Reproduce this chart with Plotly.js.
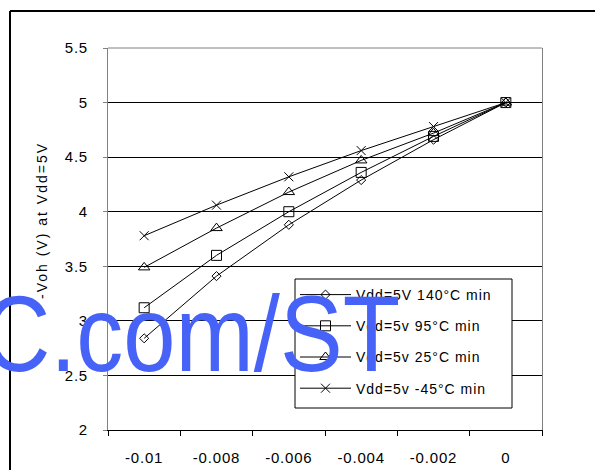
<!DOCTYPE html>
<html>
<head>
<meta charset="utf-8">
<script src="https://cdn.plot.ly/plotly-3.0.1.min.js"></script>
<style>
html,body{margin:0;padding:0;background:#fff;}
#chart{width:595px;height:470px;}
text.legendtext{letter-spacing:1px;}
text.annotation-text{letter-spacing:2px;}
g.xtick text, g.ytick text{letter-spacing:0.8px;}
</style>
</head>
<body>
<div id="chart"></div>
<script>
// Categories (Ioh in A)
var categories = ['-0.01', '-0.008', '-0.006', '-0.004', '-0.002', '0'];
// Series values (Voh in V)
var vdd5_140C = [2.84, 3.41, 3.88, 4.29, 4.66, 5.0];
var vdd5_95C  = [3.12, 3.60, 4.00, 4.36, 4.69, 5.0];
var vdd5_25C  = [3.49, 3.85, 4.18, 4.47, 4.72, 5.0];
var vdd5_m45C = [3.78, 4.06, 4.32, 4.56, 4.78, 5.0];
var seriesNames = ['Vdd=5V 140°C min', 'Vdd=5v 95°C min', 'Vdd=5v 25°C min', 'Vdd=5v -45°C min'];
var yTicks = [2, 2.5, 3, 3.5, 4, 4.5, 5, 5.5];
var yTitle = '-Voh (V) at Vdd=5V';
var watermark = 'C.com/ST';

var FONT = 'Liberation Sans, Arial, sans-serif';

function mk(y, name, symbol, size, grp) {
  return {
    x: categories, y: y, name: name, type: 'scatter', mode: 'lines+markers',
    legendgroup: grp,
    line: {color: '#000', width: 1},
    marker: {symbol: symbol, size: size, color: '#000', line: {color: '#000', width: 1}}
  };
}

var data = [
  mk(vdd5_140C, seriesNames[0], 'diamond-open', 7, 'a'),
  mk(vdd5_95C,  seriesNames[1], 'square-open', 10, 'b'),
  mk(vdd5_25C,  seriesNames[2], 'triangle-up-open', 10, 'c'),
  mk(vdd5_m45C, seriesNames[3], 'x-thin-open', 9, 'd')
];

function px(x) { return (x - 108) / 434; }
function py(y) { return (430 - y) / 382; }

var layout = {
  width: 595, height: 470,
  margin: {l: 108, r: 53, t: 48, b: 40, pad: 0},
  paper_bgcolor: '#fff', plot_bgcolor: '#fff',
  font: {family: FONT, size: 15, color: '#000'},
  showlegend: true,
  legend: {
    x: px(295), y: py(279), xanchor: 'left', yanchor: 'top',
    bgcolor: 'rgba(0,0,0,0)', bordercolor: '#000', borderwidth: 0,
    font: {family: FONT, size: 14, color: '#000'},
    tracegroupgap: 10, traceorder: 'grouped', itemwidth: 51
  },
  xaxis: {
    type: 'category', range: [-0.5, 5.5],
    tickson: 'boundaries', ticks: 'outside', ticklen: 5, tickcolor: '#000',
    showline: true, linecolor: '#000', linewidth: 1,
    showgrid: false, zeroline: false,
    ticklabelstandoff: 14,
    tickfont: {family: FONT, size: 15, color: '#000'}
  },
  yaxis: {
    range: [2, 5.5], tickvals: yTicks, ticktext: yTicks.map(String),
    ticks: 'outside', ticklen: 4, tickcolor: '#808080',
    showline: true, linecolor: '#808080', linewidth: 1, mirror: true,
    showgrid: true, gridcolor: '#000', gridwidth: 1, zeroline: false,
    ticklabelstandoff: 12,
    tickfont: {family: FONT, size: 15, color: '#000'}
  },
  shapes: [
    {type: 'line', xref: 'paper', yref: 'paper', x0: 0, x1: 1, y0: 1, y1: 1,
     line: {color: '#808080', width: 1}},
    {type: 'line', xref: 'paper', yref: 'paper', x0: px(10), x1: 2, y0: py(11), y1: py(11),
     line: {color: '#000', width: 2}},
    {type: 'line', xref: 'paper', yref: 'paper', x0: px(10), x1: px(10), y0: py(11), y1: -1,
     line: {color: '#000', width: 2}},
    // legend frame
    {type: 'rect', xref: 'paper', yref: 'paper', layer: 'above',
     x0: px(295), x1: px(512), y0: py(279), y1: py(408),
     fillcolor: '#fff', line: {color: '#000', width: 1}}
  ],
  annotations: [
    {text: yTitle, xref: 'paper', yref: 'paper',
     x: px(42), y: py(221), xanchor: 'center', yanchor: 'middle', textangle: -90,
     showarrow: false, font: {family: FONT, size: 14, color: '#000'}},
    {text: watermark, xref: 'paper', yref: 'paper',
     x: px(410), y: py(396), xanchor: 'right', yanchor: 'bottom',
     showarrow: false,
     font: {family: FONT, size: 108, color: '#4763F7'}}
  ]
};

Plotly.newPlot('chart', data, layout, {displayModeBar: false, staticPlot: true}).then(function (gd) {
  // bring the watermark above the legend and narrow it like the reference
  var anns = gd.querySelectorAll('g.annotation');
  anns.forEach(function (g) {
    var t = g.querySelector('text.annotation-text');
    if (t && t.textContent === watermark) {
      t.style.letterSpacing = '0px';
      var bb = t.getBBox();
      var right = bb.x + bb.width;
      var s = 0.87;
      var prev = t.getAttribute('transform') || '';
      t.setAttribute('transform', prev + ' translate(' + (right * (1 - s)) + ',0) scale(' + s + ',1)');
      g.parentNode.appendChild(g);
    }
  });
});
</script>
</body>
</html>
